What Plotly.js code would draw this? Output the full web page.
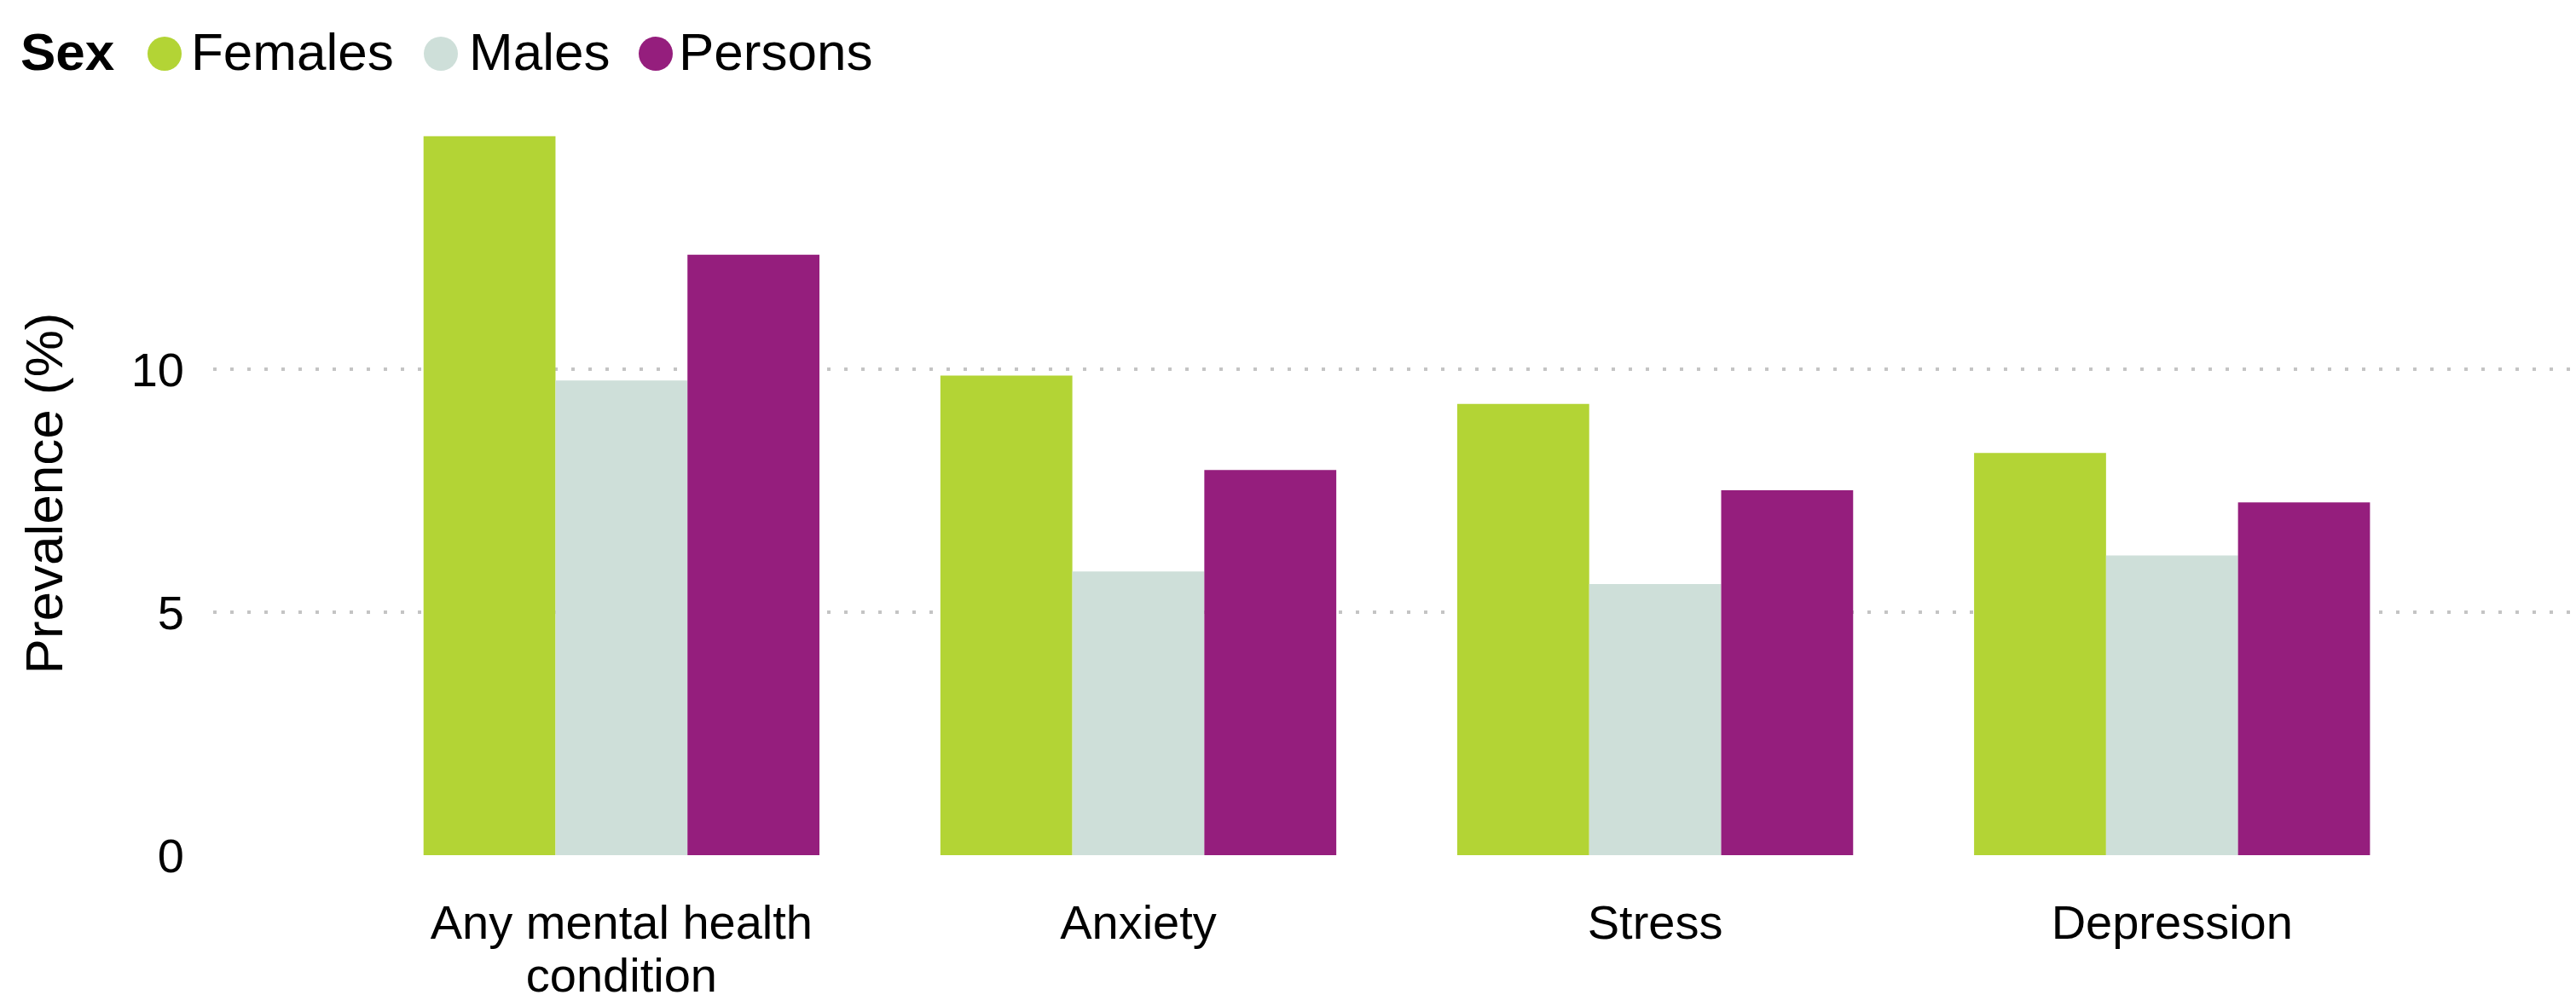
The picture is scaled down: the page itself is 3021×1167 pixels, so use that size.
<!DOCTYPE html>
<html>
<head>
<meta charset="utf-8">
<script src="https://cdn.plot.ly/plotly-3.0.1.min.js"></script>
<style>html,body{margin:0;padding:0;background:#fff;}#chart{width:3021px;height:1167px;}</style>
</head>
<body>
<div id="chart"></div>
<script>
const categories = ["Any mental health condition", "Anxiety", "Stress", "Depression"];
const tickLabels = ["Any mental health<br>condition", "Anxiety", "Stress", "Depression"];
const seriesNames = ["Females", "Males", "Persons"];
const females = [14.8, 9.87, 9.29, 8.28];
const males = [9.77, 5.84, 5.58, 6.17];
const persons = [12.36, 7.93, 7.51, 7.26];
const yTickValues = [0, 5, 10];
const yTickLabels = ["0", "5", "10"];
const legendTitle = "Sex";
const colors = ["#B3D435", "#CEDFD9", "#951E7D"];
const seriesValues = [females, males, persons];

const FONT = "Liberation Sans, Arial, sans-serif";

// plot geometry (pixels) used to place the hand-built legend
const W = 3021, H = 1167;
const M = {l: 250, r: 4, t: 154, b: 164};
const plotW = W - M.l - M.r, plotH = H - M.t - M.b;
const px2x = px => (px - M.l) / plotW;
const py2y = py => (H - M.b - py) / plotH;

const traces = seriesValues.map((vals, i) => ({
  type: "bar",
  name: seriesNames[i],
  x: categories,
  y: vals,
  marker: {color: colors[i], line: {width: 0}},
  showlegend: false
}));

// legend: title + circle + label per series
const legendTextX = [223, 549, 795];
const legendCircleX = [193, 517, 769];
const annotations = [{
  text: "<b>" + legendTitle + "</b>",
  xref: "paper", yref: "paper",
  x: px2x(23), y: py2y(60),
  xanchor: "left", yanchor: "middle",
  showarrow: false, borderpad: 0,
  font: {family: FONT, size: 62, color: "#000000"}
}];
const shapes = [];
seriesNames.forEach((n, i) => {
  annotations.push({
    text: n,
    xref: "paper", yref: "paper",
    x: px2x(legendTextX[i]), y: py2y(60),
    xanchor: "left", yanchor: "middle",
    showarrow: false, borderpad: 0,
    font: {family: FONT, size: 62, color: "#000000"}
  });
  shapes.push({
    type: "circle",
    xref: "paper", yref: "paper",
    xsizemode: "pixel", ysizemode: "pixel",
    xanchor: px2x(legendCircleX[i]), yanchor: py2y(63),
    x0: -20, x1: 20, y0: -20, y1: 20,
    fillcolor: colors[i],
    line: {width: 0}
  });
});

const layout = {
  width: W,
  height: H,
  paper_bgcolor: "#ffffff",
  plot_bgcolor: "#ffffff",
  font: {family: FONT, color: "#000000", size: 56},
  margin: {l: M.l, r: M.r, t: M.t, b: M.b, pad: 0},
  barmode: "group",
  bargap: 0.234,
  bargroupgap: 0,
  showlegend: false,
  annotations: annotations,
  shapes: shapes,
  xaxis: {
    type: "category",
    range: [-0.79, 3.775],
    tickvals: categories,
    ticktext: tickLabels.map(t => t.split("<br>").map(s => '<span style="font-size:56px">' + s + '</span>').join("<br>")),
    showgrid: false,
    zeroline: false,
    showline: false,
    ticks: "",
    tickfont: {family: FONT, size: 48, color: "#000000"},
    ticklabelstandoff: 49,
    fixedrange: true
  },
  yaxis: {
    range: [0, 14.9],
    tickvals: yTickValues,
    ticktext: yTickLabels,
    showgrid: true,
    gridcolor: "#c4c4c4",
    gridwidth: 4,
    griddash: "4px,16px",
    zeroline: false,
    showline: false,
    ticks: "",
    tickfont: {family: FONT, size: 56, color: "#000000"},
    ticklabelstandoff: 33,
    title: {text: "Prevalence (%)", font: {family: FONT, size: 62, color: "#000000"}, standoff: 60},
    fixedrange: true
  }
};

Plotly.newPlot("chart", traces, layout, {displayModeBar: false, staticPlot: true});
</script>
</body>
</html>
